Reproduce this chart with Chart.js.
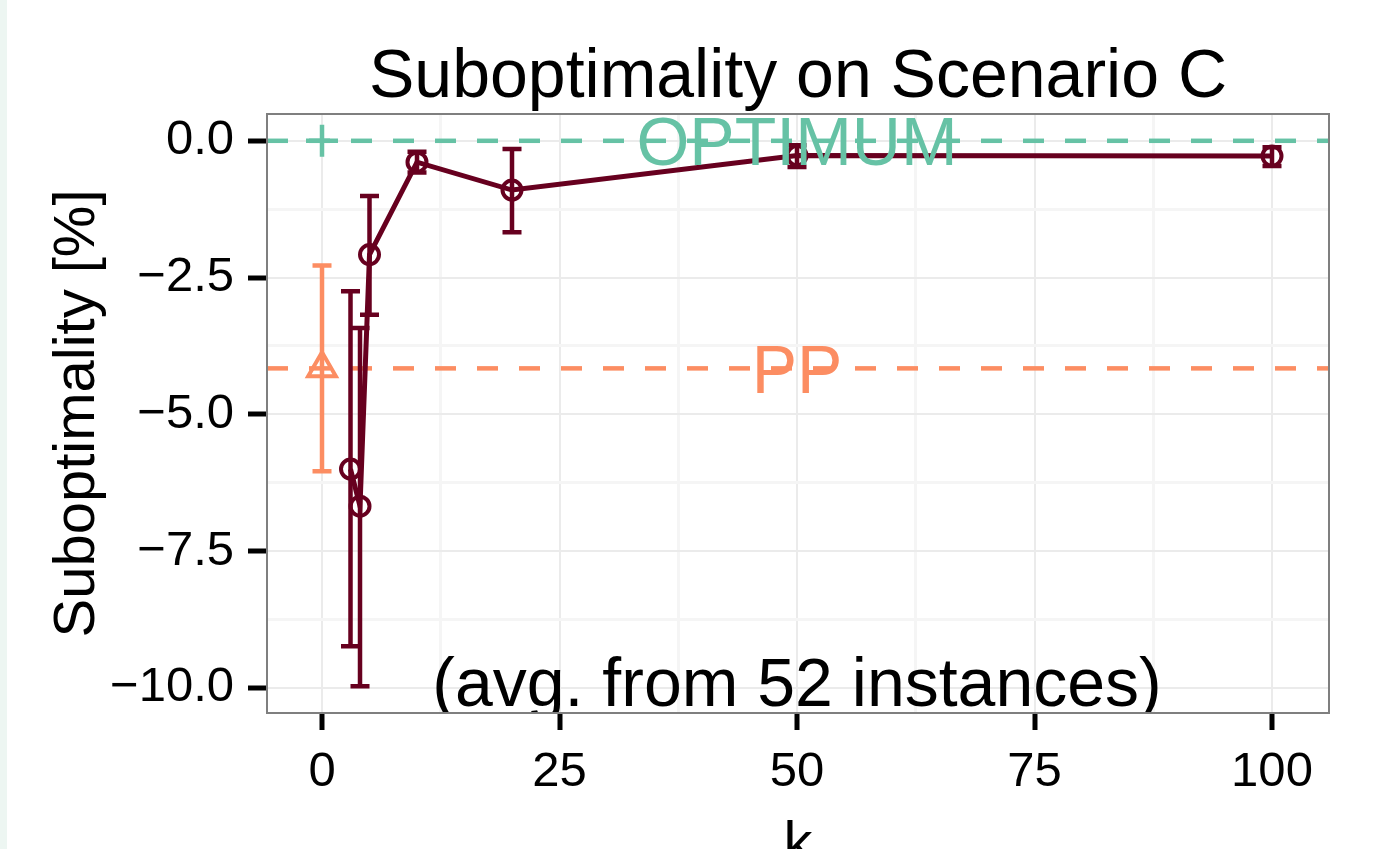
<!DOCTYPE html>
<html>
<head>
<meta charset="utf-8">
<script src="https://cdn.jsdelivr.net/npm/chart.js@4"></script>
<style>
  html, body { margin: 0; padding: 0; }
  body { background: linear-gradient(to right, #edf6f2 0, #edf6f2 7px, #ffffff 7px); }
  #wrap { position: relative; width: 1375px; height: 849px; }
</style>
</head>
<body>
<div id="wrap"><canvas id="chart"></canvas></div>
<script>
// values
const kValues = [3, 4, 5, 10, 20, 50, 100]
const meanValues = [-6.0, -6.68, -2.08, -0.39, -0.9, -0.27, -0.28]
const upperValues = [-2.75, -3.42, -1.01, -0.2, -0.15, -0.08, -0.12]
const lowerValues = [-9.24, -9.97, -3.18, -0.58, -1.67, -0.48, -0.46]

const ppK = [0]
const ppMean = [-4.16]
const ppUpper = [-2.28]
const ppLower = [-6.04]

const optimumK = [0]
const optimumValue = [0]

const xTicks = [0, 25, 50, 75, 100]
const yTicks = [-10, -7.5, -5, -2.5, 0]

const DARK = '#67001f'
const ORANGE = '#fc8d62'
const GREEN = '#66c2a5'
const FONT = "'Liberation Sans', Arial, sans-serif"

function withMinor(ticks) {
  const out = []
  ticks.forEach((t, i) => {
    out.push(t)
    if (i < ticks.length - 1) out.push((t + ticks[i + 1]) / 2)
  })
  return out
}

function drawErrorBars(ctx, xs, ys, ks, lows, highs, color) {
  ctx.save()
  ctx.strokeStyle = color
  ctx.lineWidth = 4.5
  ks.forEach((k, i) => {
    const x = xs.getPixelForValue(k)
    const y1 = ys.getPixelForValue(highs[i])
    const y2 = ys.getPixelForValue(lows[i])
    ctx.beginPath()
    ctx.moveTo(x, y1)
    ctx.lineTo(x, y2)
    ctx.moveTo(x - 9.5, y1)
    ctx.lineTo(x + 9.5, y1)
    ctx.moveTo(x - 9.5, y2)
    ctx.lineTo(x + 9.5, y2)
    ctx.stroke()
  })
  ctx.restore()
}

function hline(ctx, area, y, color) {
  ctx.save()
  ctx.strokeStyle = color
  ctx.lineWidth = 4.5
  ctx.setLineDash([21, 21])
  ctx.beginPath()
  ctx.moveTo(area.left, y)
  ctx.lineTo(area.right, y)
  ctx.stroke()
  ctx.restore()
}

function centeredText(ctx, text, x, yMid, size, color) {
  ctx.save()
  ctx.font = size + 'px ' + FONT
  ctx.fillStyle = color
  ctx.textAlign = 'center'
  ctx.textBaseline = 'alphabetic'
  ctx.fillText(text, x, yMid + size * 0.716 / 2)
  ctx.restore()
}

const overlay = {
  id: 'overlay',
  beforeDatasetsDraw(chart) {
    const { ctx, chartArea, scales } = chart
    hline(ctx, chartArea, scales.y.getPixelForValue(optimumValue[0]), GREEN)
    hline(ctx, chartArea, scales.y.getPixelForValue(ppMean[0]), ORANGE)
  },
  afterDatasetsDraw(chart) {
    const { ctx, chartArea, scales } = chart
    const xs = scales.x
    const ys = scales.y
    drawErrorBars(ctx, xs, ys, kValues, lowerValues, upperValues, DARK)
    drawErrorBars(ctx, xs, ys, ppK, ppLower, ppUpper, ORANGE)

    const xMid = xs.getPixelForValue(50)
    centeredText(ctx, 'OPTIMUM', xMid, ys.getPixelForValue(optimumValue[0]), 68, GREEN)
    centeredText(ctx, 'PP', xMid, ys.getPixelForValue(ppMean[0]), 68, ORANGE)

    ctx.save()
    ctx.beginPath()
    ctx.rect(chartArea.left, chartArea.top, chartArea.right - chartArea.left, chartArea.bottom - chartArea.top)
    ctx.clip()
    centeredText(ctx, '(avg. from 52 instances)', xMid, ys.getPixelForValue(-10) - 6, 68, '#000')
    ctx.restore()

    // panel border
    ctx.save()
    ctx.strokeStyle = '#7f7f7f'
    ctx.lineWidth = 2
    ctx.strokeRect(chartArea.left, chartArea.top, chartArea.right - chartArea.left, chartArea.bottom - chartArea.top)
    ctx.restore()

    // titles
    const cx = (chartArea.left + chartArea.right) / 2
    ctx.save()
    ctx.fillStyle = '#000'
    ctx.textAlign = 'center'
    ctx.font = '68px ' + FONT
    ctx.fillText('Suboptimality on Scenario C', cx, 97)
    ctx.font = '58px ' + FONT
    ctx.fillText('k', cx, 862)
    ctx.translate(94, (chartArea.top + chartArea.bottom) / 2)
    ctx.rotate(-Math.PI / 2)
    ctx.fillText('Suboptimality [%]', 0, 0)
    ctx.restore()
  }
}

const isMajorX = (v) => xTicks.includes(v)
const isMajorY = (v) => yTicks.includes(v)

new Chart(document.getElementById('chart'), {
  type: 'scatter',
  data: {
    datasets: [
      {
        label: 'k',
        data: kValues.map((k, i) => ({ x: k, y: meanValues[i] })),
        showLine: true,
        borderColor: DARK,
        borderWidth: 5,
        pointStyle: 'circle',
        pointRadius: 9.5,
        pointBorderWidth: 4,
        pointBorderColor: DARK,
        pointBackgroundColor: 'rgba(0,0,0,0)'
      },
      {
        label: 'PP',
        data: ppK.map((k, i) => ({ x: k, y: ppMean[i] })),
        pointStyle: 'triangle',
        pointRadius: 16,
        pointBorderWidth: 4,
        pointBorderColor: ORANGE,
        pointBackgroundColor: 'rgba(0,0,0,0)'
      },
      {
        label: 'OPTIMUM',
        data: optimumK.map((k, i) => ({ x: k, y: optimumValue[i] })),
        pointStyle: 'cross',
        pointRadius: 16,
        pointBorderWidth: 4.5,
        pointBorderColor: GREEN
      }
    ]
  },
  options: {
    responsive: true,
    maintainAspectRatio: false,
    animation: false,
    layout: { padding: { top: 114, right: 46, left: 0, bottom: 0 } },
    plugins: {
      legend: { display: false },
      tooltip: { enabled: false },
      title: { display: false }
    },
    scales: {
      x: {
        type: 'linear',
        min: -5.79,
        max: 106,
        afterBuildTicks: (scale) => {
          scale.ticks = withMinor(xTicks).map((v) => ({ value: v }))
        },
        afterFit: (scale) => { scale.height = 136 },
        border: { display: false },
        grid: {
          color: (c) => (isMajorX(c.tick.value) ? '#ebebeb' : '#f5f5f5'),
          lineWidth: (c) => (isMajorX(c.tick.value) ? 2 : 3),
          tickColor: (c) => (isMajorX(c.tick.value) ? '#000' : 'rgba(0,0,0,0)'),
          tickWidth: 5,
          tickLength: 17
        },
        ticks: {
          autoSkip: false,
          maxRotation: 0,
          padding: 13,
          color: '#000',
          font: { family: FONT, size: 49 },
          callback: (v) => (isMajorX(v) ? String(v) : '')
        }
      },
      y: {
        type: 'linear',
        min: -10.46,
        max: 0.49,
        afterBuildTicks: (scale) => {
          scale.ticks = withMinor(yTicks).map((v) => ({ value: v }))
        },
        afterFit: (scale) => { scale.width = 267 },
        border: { display: false },
        grid: {
          color: (c) => (isMajorY(c.tick.value) ? '#ebebeb' : '#f5f5f5'),
          lineWidth: (c) => (isMajorY(c.tick.value) ? 2 : 3),
          tickColor: (c) => (isMajorY(c.tick.value) ? '#000' : 'rgba(0,0,0,0)'),
          tickWidth: 5,
          tickLength: 19
        },
        ticks: {
          autoSkip: false,
          padding: 14,
          color: '#000',
          font: { family: FONT, size: 49 },
          callback: (v) => (isMajorY(v) ? v.toFixed(1).replace('-', '\u2212') : '')
        }
      }
    }
  },
  plugins: [overlay]
})
</script>
</body>
</html>
